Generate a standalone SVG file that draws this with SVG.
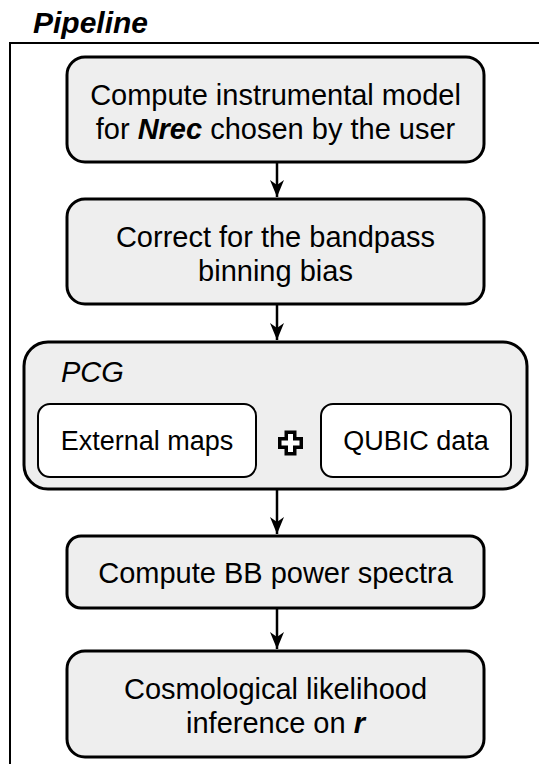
<svg xmlns="http://www.w3.org/2000/svg" width="539" height="764" viewBox="0 0 539 764">
<defs>
<style>
.box{fill:#eeeeee;stroke:#000;stroke-width:3}
.inner{fill:#ffffff;stroke:#000;stroke-width:2}
.t{font-family:"Liberation Sans",Arial,Helvetica,sans-serif;font-size:29px;fill:#000;text-anchor:middle}
.ti{font-family:"Liberation Sans",Arial,Helvetica,sans-serif;font-size:27px;fill:#000;text-anchor:middle}
.bi{font-weight:bold;font-style:italic}
.edge{fill:none;stroke:#000;stroke-width:2.5}
</style>
<marker id="arr" viewBox="0 -8 18 16" refX="17" refY="0" markerWidth="18" markerHeight="16" markerUnits="userSpaceOnUse" orient="auto">
<path d="M0,-7 L17,0 L0,7 L5,0 Z" fill="#000"/>
</marker>
</defs>
<rect width="539" height="764" fill="#ffffff"/>
<g id="frame">
<text x="33" y="33" font-family="'Liberation Sans',Arial,sans-serif" font-size="30" font-weight="bold" font-style="italic">Pipeline</text>
<path d="M10,764 L10,43 L539,43" fill="none" stroke="#000" stroke-width="2"/>
</g>
<g id="connectors">
<path class="edge" d="M277,162 L277,197" marker-end="url(#arr)"/>
<path class="edge" d="M277,304 L277,340" marker-end="url(#arr)"/>
<path class="edge" d="M277,489 L277,534" marker-end="url(#arr)"/>
<path class="edge" d="M277,608 L277,649" marker-end="url(#arr)"/>
</g>
<g id="n1">
<rect class="box" x="67" y="57" width="417" height="105" rx="18"/>
<text class="t" x="275.5" y="105">Compute instrumental model</text>
<text class="t" x="275.5" y="139">for <tspan class="bi">Nrec</tspan> chosen by the user</text>
</g>
<g id="n2">
<rect class="box" x="67" y="199" width="417" height="105" rx="18"/>
<text class="t" x="275.5" y="247">Correct for the bandpass</text>
<text class="t" x="275.5" y="281">binning bias</text>
</g>
<g id="pcg">
<rect class="box" x="24" y="342" width="503" height="147" rx="24"/>
<text x="61" y="382" font-family="'Liberation Sans',Arial,sans-serif" font-size="29" font-style="italic">PCG</text>
<g id="ext">
<rect class="inner" x="38" y="404" width="218" height="73" rx="12"/>
<text class="ti" x="147" y="450">External maps</text>
</g>
<g id="plus">
<path d="M286.25,432.25 h8.5 v6.5 h6.5 v8.5 h-6.5 v6.5 h-8.5 v-6.5 h-6.5 v-8.5 h6.5 Z" fill="#fff" stroke="#000" stroke-width="3.5" stroke-linejoin="miter"/>
</g>
<g id="qubic">
<rect class="inner" x="321" y="404" width="190" height="73" rx="12"/>
<text class="ti" x="416" y="450">QUBIC data</text>
</g>
</g>
<g id="n4">
<rect class="box" x="67" y="536" width="417" height="72" rx="14"/>
<text class="t" x="275.5" y="583">Compute BB power spectra</text>
</g>
<g id="n5">
<rect class="box" x="67" y="651" width="417" height="106" rx="18"/>
<text class="t" x="275.5" y="699">Cosmological likelihood</text>
<text class="t" x="275.5" y="733">inference on <tspan class="bi">r</tspan></text>
</g>
</svg>
